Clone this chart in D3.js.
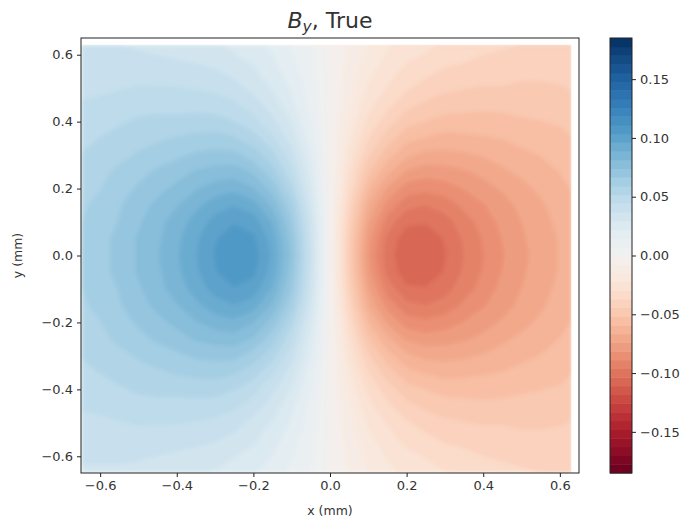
<!DOCTYPE html>
<html>
<head>
<meta charset="utf-8">
<title>By, True</title>
<script src="https://d3js.org/d3.v7.min.js"></script>
<style>
  body { margin: 0; background: #fff; }
  text { font-family: "DejaVu Sans", sans-serif; fill: #333; }
</style>
</head>
<body>
<div id="chart"></div>
<script>
// grid nodes (mm): columns left to right, rows top to bottom
var xNodes = [-0.65, -0.6, -0.55, -0.5, -0.45, -0.4, -0.35, -0.3, -0.25, -0.2, -0.15, -0.1, -0.05, 0,
              0.05, 0.1, 0.15, 0.2, 0.25, 0.3, 0.35, 0.4, 0.45, 0.5, 0.55, 0.6, 0.63]
var yNodes = [0.63, 0.6, 0.55, 0.5, 0.45, 0.4, 0.35, 0.3, 0.25, 0.2, 0.15, 0.1, 0.05, 0,
              -0.05, -0.1, -0.15, -0.2, -0.25, -0.3, -0.35, -0.4, -0.45, -0.5, -0.55, -0.6, -0.65]

// B_y values, one row per yNode
var byGrid = [
  [0.037, 0.037, 0.037, 0.036, 0.035, 0.034, 0.033, 0.031, 0.028, 0.025, 0.020, 0.014, 0.007, -0.002, -0.008, -0.015, -0.021, -0.025, -0.028, -0.031, -0.033, -0.035, -0.036, -0.037, -0.038, -0.038, -0.038],
  [0.038, 0.038, 0.038, 0.038, 0.037, 0.036, 0.035, 0.033, 0.030, 0.027, 0.022, 0.015, 0.008, -0.002, -0.009, -0.017, -0.023, -0.027, -0.030, -0.033, -0.035, -0.037, -0.038, -0.039, -0.040, -0.039, -0.039],
  [0.040, 0.041, 0.041, 0.042, 0.041, 0.040, 0.039, 0.038, 0.035, 0.031, 0.025, 0.018, 0.009, -0.002, -0.011, -0.020, -0.026, -0.032, -0.035, -0.038, -0.039, -0.041, -0.041, -0.042, -0.042, -0.042, -0.042],
  [0.043, 0.043, 0.044, 0.045, 0.045, 0.045, 0.044, 0.043, 0.040, 0.035, 0.029, 0.021, 0.011, -0.002, -0.012, -0.023, -0.030, -0.036, -0.040, -0.043, -0.044, -0.045, -0.045, -0.046, -0.046, -0.045, -0.044],
  [0.045, 0.046, 0.048, 0.049, 0.049, 0.049, 0.049, 0.048, 0.046, 0.041, 0.034, 0.024, 0.012, -0.002, -0.014, -0.027, -0.035, -0.042, -0.046, -0.048, -0.049, -0.050, -0.050, -0.049, -0.049, -0.048, -0.047],
  [0.048, 0.049, 0.051, 0.053, 0.054, 0.054, 0.055, 0.055, 0.052, 0.047, 0.039, 0.029, 0.015, -0.002, -0.017, -0.031, -0.041, -0.049, -0.052, -0.055, -0.055, -0.055, -0.054, -0.053, -0.052, -0.051, -0.050],
  [0.050, 0.052, 0.054, 0.057, 0.058, 0.060, 0.061, 0.062, 0.060, 0.055, 0.046, 0.034, 0.017, -0.002, -0.020, -0.037, -0.048, -0.057, -0.060, -0.062, -0.061, -0.060, -0.059, -0.057, -0.056, -0.054, -0.052],
  [0.052, 0.055, 0.057, 0.060, 0.063, 0.065, 0.068, 0.069, 0.069, 0.063, 0.054, 0.040, 0.021, -0.002, -0.024, -0.043, -0.056, -0.065, -0.069, -0.069, -0.068, -0.066, -0.064, -0.061, -0.059, -0.056, -0.055],
  [0.054, 0.057, 0.061, 0.064, 0.068, 0.071, 0.075, 0.077, 0.078, 0.073, 0.062, 0.046, 0.024, -0.002, -0.028, -0.051, -0.065, -0.075, -0.078, -0.077, -0.075, -0.072, -0.068, -0.065, -0.062, -0.059, -0.057],
  [0.056, 0.059, 0.063, 0.068, 0.072, 0.076, 0.081, 0.085, 0.087, 0.082, 0.071, 0.053, 0.028, -0.002, -0.032, -0.059, -0.075, -0.085, -0.087, -0.085, -0.081, -0.077, -0.073, -0.069, -0.065, -0.061, -0.059],
  [0.058, 0.061, 0.066, 0.071, 0.076, 0.081, 0.087, 0.093, 0.096, 0.092, 0.080, 0.061, 0.032, -0.002, -0.037, -0.067, -0.084, -0.094, -0.096, -0.093, -0.087, -0.082, -0.077, -0.072, -0.068, -0.063, -0.061],
  [0.059, 0.063, 0.067, 0.073, 0.079, 0.085, 0.092, 0.099, 0.103, 0.100, 0.088, 0.067, 0.036, -0.002, -0.041, -0.073, -0.092, -0.102, -0.103, -0.099, -0.092, -0.086, -0.079, -0.074, -0.069, -0.065, -0.062],
  [0.060, 0.064, 0.069, 0.075, 0.080, 0.087, 0.095, 0.103, 0.108, 0.105, 0.093, 0.071, 0.038, -0.002, -0.044, -0.078, -0.098, -0.108, -0.108, -0.103, -0.095, -0.088, -0.081, -0.075, -0.071, -0.066, -0.063],
  [0.060, 0.064, 0.069, 0.075, 0.081, 0.088, 0.096, 0.104, 0.110, 0.107, 0.095, 0.073, 0.039, -0.002, -0.045, -0.080, -0.100, -0.110, -0.110, -0.104, -0.096, -0.089, -0.082, -0.076, -0.071, -0.066, -0.063],
  [0.060, 0.064, 0.069, 0.075, 0.080, 0.087, 0.095, 0.103, 0.108, 0.105, 0.093, 0.071, 0.038, -0.002, -0.044, -0.078, -0.098, -0.108, -0.108, -0.103, -0.095, -0.088, -0.081, -0.075, -0.071, -0.066, -0.063],
  [0.059, 0.063, 0.067, 0.073, 0.079, 0.085, 0.092, 0.099, 0.103, 0.100, 0.088, 0.067, 0.036, -0.002, -0.041, -0.073, -0.092, -0.102, -0.103, -0.099, -0.092, -0.086, -0.079, -0.074, -0.069, -0.065, -0.062],
  [0.058, 0.061, 0.066, 0.071, 0.076, 0.081, 0.087, 0.093, 0.096, 0.092, 0.080, 0.061, 0.032, -0.002, -0.037, -0.067, -0.084, -0.094, -0.096, -0.093, -0.087, -0.082, -0.077, -0.072, -0.068, -0.063, -0.061],
  [0.056, 0.059, 0.063, 0.068, 0.072, 0.076, 0.081, 0.085, 0.087, 0.082, 0.071, 0.053, 0.028, -0.002, -0.032, -0.059, -0.075, -0.085, -0.087, -0.085, -0.081, -0.077, -0.073, -0.069, -0.065, -0.061, -0.059],
  [0.054, 0.057, 0.061, 0.064, 0.068, 0.071, 0.075, 0.077, 0.078, 0.073, 0.062, 0.046, 0.024, -0.002, -0.028, -0.051, -0.065, -0.075, -0.078, -0.077, -0.075, -0.072, -0.068, -0.065, -0.062, -0.059, -0.057],
  [0.052, 0.055, 0.057, 0.060, 0.063, 0.065, 0.068, 0.069, 0.069, 0.063, 0.054, 0.040, 0.021, -0.002, -0.024, -0.043, -0.056, -0.065, -0.069, -0.069, -0.068, -0.066, -0.064, -0.061, -0.059, -0.056, -0.055],
  [0.050, 0.052, 0.054, 0.057, 0.058, 0.060, 0.061, 0.062, 0.060, 0.055, 0.046, 0.034, 0.017, -0.002, -0.020, -0.037, -0.048, -0.057, -0.060, -0.062, -0.061, -0.060, -0.059, -0.057, -0.056, -0.054, -0.052],
  [0.048, 0.049, 0.051, 0.053, 0.054, 0.054, 0.055, 0.055, 0.052, 0.047, 0.039, 0.029, 0.015, -0.002, -0.017, -0.031, -0.041, -0.049, -0.052, -0.055, -0.055, -0.055, -0.054, -0.053, -0.052, -0.051, -0.050],
  [0.045, 0.046, 0.048, 0.049, 0.049, 0.049, 0.049, 0.048, 0.046, 0.041, 0.034, 0.024, 0.012, -0.002, -0.014, -0.027, -0.035, -0.042, -0.046, -0.048, -0.049, -0.050, -0.050, -0.049, -0.049, -0.048, -0.047],
  [0.043, 0.043, 0.044, 0.045, 0.045, 0.045, 0.044, 0.043, 0.040, 0.035, 0.029, 0.021, 0.011, -0.002, -0.012, -0.023, -0.030, -0.036, -0.040, -0.043, -0.044, -0.045, -0.045, -0.046, -0.046, -0.045, -0.044],
  [0.040, 0.041, 0.041, 0.042, 0.041, 0.040, 0.039, 0.038, 0.035, 0.031, 0.025, 0.018, 0.009, -0.002, -0.011, -0.020, -0.026, -0.032, -0.035, -0.038, -0.039, -0.041, -0.041, -0.042, -0.042, -0.042, -0.042],
  [0.038, 0.038, 0.038, 0.038, 0.037, 0.036, 0.035, 0.033, 0.030, 0.027, 0.022, 0.015, 0.008, -0.002, -0.009, -0.017, -0.023, -0.027, -0.030, -0.033, -0.035, -0.037, -0.038, -0.039, -0.040, -0.039, -0.039],
  [0.036, 0.036, 0.036, 0.035, 0.034, 0.033, 0.031, 0.029, 0.027, 0.023, 0.019, 0.013, 0.007, -0.002, -0.008, -0.015, -0.020, -0.024, -0.027, -0.029, -0.031, -0.033, -0.035, -0.036, -0.037, -0.037, -0.037]
]

var xTicks = [-0.6, -0.4, -0.2, 0, 0.2, 0.4, 0.6]
var yTicks = [-0.6, -0.4, -0.2, 0, 0.2, 0.4, 0.6]
var cbarTicks = [-0.15, -0.1, -0.05, 0, 0.05, 0.1, 0.15]
var vmax = 0.185
var nLevels = 50

var W = 689, H = 525
var plot = {left: 81, right: 579, top: 38, bottom: 473}
var cbar = {left: 610, right: 632}

var svg = d3.select("#chart").append("svg")
    .attr("width", W).attr("height", H)

var x = d3.scaleLinear().domain([-0.65, 0.65]).range([plot.left, plot.right])
var y = d3.scaleLinear().domain([-0.65, 0.65]).range([plot.bottom, plot.top])

// grid index -> mm (piecewise, nodes are not evenly spaced at the edges)
var xi = d3.scaleLinear().domain(d3.range(xNodes.length)).range(xNodes).clamp(true)
var yi = d3.scaleLinear().domain(d3.range(yNodes.length)).range(yNodes).clamp(true)

var levels = d3.range(nLevels + 1).map(function(i) { return -vmax + 2 * vmax * i / nLevels })
var color = function(v) { return d3.interpolateRdBu((v + vmax) / (2 * vmax)) }

var contours = d3.contours()
    .size([xNodes.length, yNodes.length])
    .thresholds(levels.slice(0, -1))(byGrid.flat())

var proj = d3.geoTransform({
    point: function(px, py) { this.stream.point(x(xi(px - 0.5)), y(yi(py - 0.5))) }
})
var path = d3.geoPath(proj)

// soften the grid-shaped ring edges a little, then clip to the data area
var defs = svg.append("defs")
defs.append("filter").attr("id", "soft")
    .attr("x", "-5%").attr("y", "-5%").attr("width", "110%").attr("height", "110%")
  .append("feGaussianBlur").attr("stdDeviation", 2.2).attr("edgeMode", "duplicate")
defs.append("clipPath").attr("id", "dataClip")
  .append("rect")
    .attr("x", x(xNodes[0])).attr("y", y(yNodes[0]))
    .attr("width", x(xNodes[xNodes.length - 1]) - x(xNodes[0]))
    .attr("height", y(yNodes[yNodes.length - 1]) - y(yNodes[0]))

svg.append("g").attr("clip-path", "url(#dataClip)")
  .append("g").attr("filter", "url(#soft)")
  .selectAll("path")
    .data(contours)
    .join("path")
    .attr("d", path)
    .attr("fill", function(d, i) { return color((levels[i] + levels[i + 1]) / 2) })

// frame
svg.append("rect")
    .attr("x", plot.left).attr("y", plot.top)
    .attr("width", plot.right - plot.left).attr("height", plot.bottom - plot.top)
    .attr("fill", "none").attr("stroke", "#222").attr("stroke-width", 1)

var fmt1 = d3.format(".1f")
var xAxis = svg.append("g")
    .attr("transform", "translate(0," + plot.bottom + ")")
    .call(d3.axisBottom(x).tickValues(xTicks).tickFormat(fmt1).tickSize(4).tickSizeOuter(0).tickPadding(4))
var yAxis = svg.append("g")
    .attr("transform", "translate(" + plot.left + ",0)")
    .call(d3.axisLeft(y).tickValues(yTicks).tickFormat(fmt1).tickSize(4).tickSizeOuter(0).tickPadding(4))
;[xAxis, yAxis].forEach(function(g) {
    g.select(".domain").remove()
    g.selectAll("line").attr("stroke", "#222")
    g.selectAll("text").style("font-size", "13px").attr("fill", "#333")
})

svg.append("text")
    .attr("x", x(0)).attr("y", 515)
    .attr("text-anchor", "middle")
    .style("font-size", "12.5px")
    .text("x (mm)")

svg.append("text")
    .attr("transform", "translate(22," + y(0) + ") rotate(-90)")
    .attr("text-anchor", "middle")
    .style("font-size", "12.5px")
    .text("y (mm)")

// title
var title = svg.append("text")
    .attr("x", x(0)).attr("y", 28)
    .attr("text-anchor", "middle")
    .style("font-size", "22px")
    .attr("fill", "#222")
title.append("tspan").style("font-style", "italic").text("B")
title.append("tspan").style("font-style", "italic").style("font-size", "15.5px").attr("dy", 4).text("y")
title.append("tspan").attr("dy", -4).text(", True")

// colorbar
var cy = d3.scaleLinear().domain([-vmax, vmax]).range([plot.bottom, plot.top])
svg.append("g").selectAll("rect")
    .data(d3.range(nLevels))
    .join("rect")
    .attr("x", cbar.left)
    .attr("width", cbar.right - cbar.left)
    .attr("y", function(i) { return cy(levels[i + 1]) })
    .attr("height", function(i) { return cy(levels[i]) - cy(levels[i + 1]) + 0.5 })
    .attr("fill", function(i) { return color((levels[i] + levels[i + 1]) / 2) })

svg.append("rect")
    .attr("x", cbar.left).attr("y", plot.top)
    .attr("width", cbar.right - cbar.left).attr("height", plot.bottom - plot.top)
    .attr("fill", "none").attr("stroke", "#222").attr("stroke-width", 1)

var cAxis = svg.append("g")
    .attr("transform", "translate(" + cbar.right + ",0)")
    .call(d3.axisRight(cy).tickValues(cbarTicks).tickFormat(d3.format(".2f")).tickSize(4).tickSizeOuter(0).tickPadding(4))
cAxis.select(".domain").remove()
cAxis.selectAll("line").attr("stroke", "#222")
cAxis.selectAll("text").style("font-size", "13px").attr("fill", "#333")
</script>
</body>
</html>
